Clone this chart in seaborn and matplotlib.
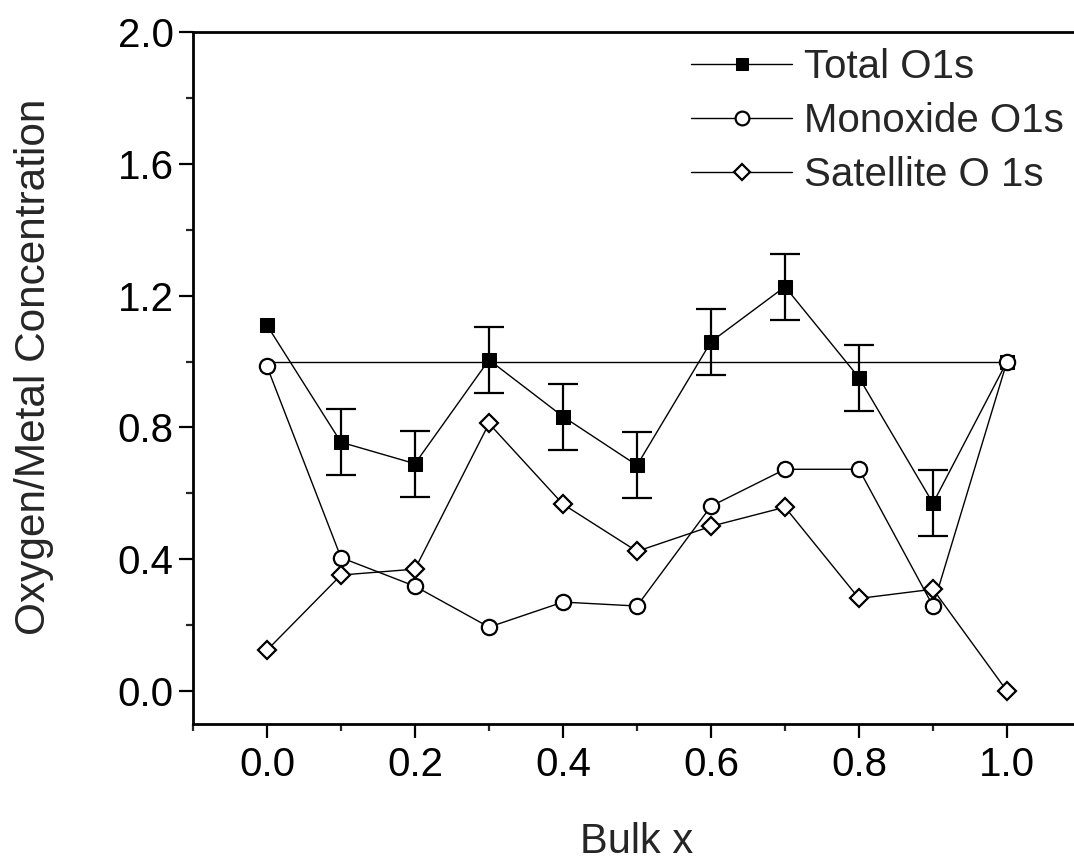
import matplotlib
matplotlib.use("Agg")
import matplotlib.pyplot as plt
from matplotlib.ticker import MultipleLocator
import seaborn as sns
import pandas as pd

bulk_x = [0.0, 0.1, 0.2, 0.3, 0.4, 0.5, 0.6, 0.7, 0.8, 0.9, 1.0]
total_o1s = [1.11, 0.755, 0.69, 1.005, 0.833, 0.685, 1.06, 1.227, 0.951, 0.57, 1.0]
total_err = [0.0, 0.1, 0.1, 0.1, 0.1, 0.1, 0.1, 0.1, 0.1, 0.1, 0.0]
monoxide_o1s = [0.985, 0.405, 0.318, 0.194, 0.27, 0.258, 0.561, 0.673, 0.673, 0.258, 1.0]
satellite_o1s = [0.124, 0.352, 0.37, 0.812, 0.567, 0.424, 0.50, 0.558, 0.281, 0.309, 0.0]
ideal_x = [0.0, 1.0]
ideal_y = [1.0, 1.0]

sns.set_style("ticks")
plt.rcParams["font.family"] = ["Liberation Sans", "DejaVu Sans"]

df = pd.DataFrame({"x": bulk_x, "total": total_o1s, "err": total_err,
                   "mono": monoxide_o1s, "sat": satellite_o1s})

fig = plt.figure(figsize=(10.74, 8.61), dpi=100)
ax = fig.add_axes([193 / 1074, 137 / 861, 888 / 1074, 692 / 861])

sns.lineplot(x=ideal_x, y=ideal_y, ax=ax, color="black", lw=1, zorder=1)

# error bars on total O1s
has_err = df[df["err"] > 0]
ax.errorbar(has_err["x"], has_err["total"], yerr=has_err["err"], fmt="none",
            ecolor="black", elinewidth=1.6, capsize=11, capthick=1.6, zorder=2)

sns.lineplot(data=df, x="x", y="total", ax=ax, color="black", lw=1,
             marker="s", markersize=10, markerfacecolor="black",
             markeredgecolor="black", label="Total O1s", zorder=3)
sns.lineplot(data=df, x="x", y="mono", ax=ax, color="black", lw=1,
             marker="o", markersize=11, markerfacecolor="white",
             markeredgecolor="black", markeredgewidth=1.6,
             label="Monoxide O1s", zorder=4)
sns.lineplot(data=df, x="x", y="sat", ax=ax, color="black", lw=1,
             marker="D", markersize=9, markerfacecolor="white",
             markeredgecolor="black", markeredgewidth=1.6,
             label="Satellite O 1s", zorder=4)

ax.set_xlim(-0.1, 1.1)
ax.set_ylim(-0.1, 2.0)
ax.xaxis.set_minor_locator(MultipleLocator(0.1))
ax.yaxis.set_minor_locator(MultipleLocator(0.2))
ax.set_xticks([0.0, 0.2, 0.4, 0.6, 0.8, 1.0])
ax.set_yticks([0.0, 0.4, 0.8, 1.2, 1.6, 2.0])
ax.tick_params(which="major", direction="out", length=10, width=1.6,
               labelsize=29, colors="black")
ax.tick_params(axis="x", which="major", pad=6)
ax.tick_params(axis="y", which="major", pad=4)
ax.tick_params(which="minor", direction="out", length=5, width=1.6)
ax.tick_params(top=False, right=False, which="both")

for side in ["left", "bottom", "top"]:
    ax.spines[side].set_linewidth(2)
    ax.spines[side].set_color("black")
ax.spines["right"].set_visible(False)

ax.set_xlabel("Bulk x", fontsize=30)
ax.set_ylabel("Oxygen/Metal Concentration", fontsize=30.5)
ax.xaxis.set_label_coords(0.5, -0.141)
ax.yaxis.set_label_coords(-0.157, 0.516)

leg = ax.legend(loc="upper right", bbox_to_anchor=(1.008, 1.012), frameon=False,
                fontsize=29, handlelength=2.5, handletextpad=0.3,
                labelspacing=0.4, markerscale=0.9, borderaxespad=0.2)

fig.savefig("out.png", dpi=100)
